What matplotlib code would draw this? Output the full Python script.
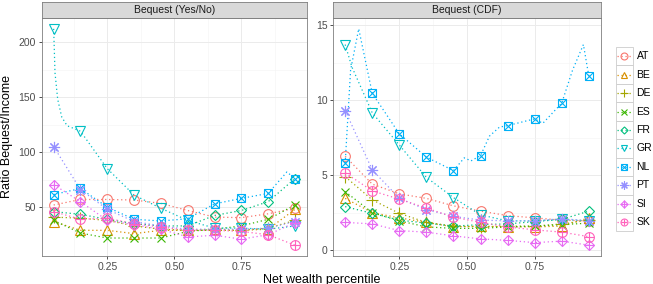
import matplotlib
matplotlib.use('Agg')
import matplotlib.pyplot as plt
from matplotlib.patches import Rectangle
from matplotlib.lines import Line2D

plt.rcParams['font.family'] = ['Liberation Sans', 'DejaVu Sans']

# ---------------- data ----------------
percentile = [0.05, 0.15, 0.25, 0.35, 0.45, 0.55, 0.65, 0.75, 0.85, 0.95]
countries = ['AT', 'BE', 'DE', 'ES', 'FR', 'GR', 'NL', 'PT', 'SI', 'SK']
panel_titles = ['Bequest (Yes/No)', 'Bequest (CDF)']

# Bequest (Yes/No) panel
yn_AT = [52, 57, 57, 56.5, 53.5, 47, 41, 40.5, 44, 49]
yn_BE = [37, 29, 29, 26, 29, 29, 30, 29, 30, 48]
yn_DE = [41, 40, 38, 33, 30, 29, 29, 29, 31, 38]
yn_ES = [38, 26.5, 22, 22, 22, 28, 30, 33, 39, 52]
yn_FR = [46, 43.5, 39, 35, 33, 33, 42.5, 47, 55, 76]
yn_GR = [212, 119, 85, 61, 49, 38, 31, 31, 30, 33]
yn_NL = [61.5, 67, 50, 39, 37.5, 39.5, 53, 58, 62.5, 76]
yn_PT = [105, 66, 48, 37, 33, 30, 30, 30, 31, 37]
yn_SI = [70.5, 55, 38, 34, 30, 23, 24.5, 21, 25, 36]
yn_SK = [46, 39, 40, 35, 32, 29, 29, 28, 25, 15.5]

# Bequest (CDF) panel
cdf_AT = [6.25, 4.4, 3.75, 3.45, 2.95, 2.6, 2.3, 2.15, 2.0, 1.95]
cdf_BE = [3.45, 2.5, 2.15, 1.85, 1.55, 1.6, 1.55, 1.55, 1.6, 2.15]
cdf_DE = [4.9, 3.35, 2.45, 1.85, 1.6, 1.55, 1.6, 1.6, 1.75, 2.0]
cdf_ES = [3.9, 2.5, 1.95, 1.55, 1.45, 1.45, 1.55, 1.6, 1.7, 1.8]
cdf_FR = [2.9, 2.45, 2.0, 1.8, 1.6, 1.7, 1.75, 1.9, 2.05, 2.6]
cdf_GR = [13.7, 9.15, 7.0, 4.85, 3.5, 2.35, 1.95, 1.95, 2.05, 1.95]
cdf_NL = [5.8, 10.45, 7.75, 6.2, 5.3, 6.3, 8.3, 8.75, 9.8, 11.6]
cdf_PT = [9.3, 5.35, 3.45, 2.7, 2.25, 2.0, 1.95, 1.95, 2.1, 1.95]
cdf_SI = [1.85, 1.75, 1.3, 1.2, 0.95, 0.75, 0.65, 0.5, 0.6, 0.33]
cdf_SK = [5.15, 3.95, 3.4, 2.8, 2.2, 1.85, 1.55, 1.35, 1.2, 0.9]

# extra points along the (finer) connecting lines
yn_GR_line_x = [0.055, 0.065, 0.08, 0.10]
yn_GR_line_y = [172, 148, 132, 124]
yn_NL_line_x = [0.92]
yn_NL_line_y = [82]
cdf_GR_line_x = [0.075]
cdf_GR_line_y = [12.2]
cdf_NL_line_x = [0.07, 0.10, 0.49, 0.515, 0.583, 0.62, 0.78, 0.89, 0.93]
cdf_NL_line_y = [12.0, 14.75, 6.15, 5.95, 7.6, 8.2, 8.45, 12.0, 13.7]

yn = dict(AT=yn_AT, BE=yn_BE, DE=yn_DE, ES=yn_ES, FR=yn_FR, GR=yn_GR,
          NL=yn_NL, PT=yn_PT, SI=yn_SI, SK=yn_SK)
cdf = dict(AT=cdf_AT, BE=cdf_BE, DE=cdf_DE, ES=cdf_ES, FR=cdf_FR, GR=cdf_GR,
           NL=cdf_NL, PT=cdf_PT, SI=cdf_SI, SK=cdf_SK)
yn_extra = {'GR': (yn_GR_line_x, yn_GR_line_y), 'NL': (yn_NL_line_x, yn_NL_line_y)}
cdf_extra = {'GR': (cdf_GR_line_x, cdf_GR_line_y), 'NL': (cdf_NL_line_x, cdf_NL_line_y)}

# ---------------- style ----------------
colors = dict(AT='#F8766D', BE='#D89000', DE='#A3A500', ES='#39B600', FR='#00BF7D',
              GR='#00BFC4', NL='#00B0F6', PT='#9590FF', SI='#E76BF3', SK='#FF62BC')
shapes = {
    'AT': [('o', 1.0)],
    'BE': [('^', 1.0)],
    'DE': [('+', 1.15)],
    'ES': [('x', 0.9)],
    'FR': [('D', 0.72)],
    'GR': [('v', 1.0)],
    'NL': [('s', 0.85), ('x', 0.85)],
    'PT': [((8, 2, 0), 1.15)],
    'SI': [('D', 0.72), ('+', 1.02)],
    'SK': [('o', 1.0), ('+', 1.0)],
}

W, H = 653, 284
fig = plt.figure(figsize=(W / 100, H / 100), dpi=100)


def px_rect(x0, y0, x1, y1):
    return [x0 / W, 1 - y1 / H, (x1 - x0) / W, (y1 - y0) / H]


def draw_markers(ax, xs, ys, c, ms, **kw):
    for m, s in shapes[c]:
        ax.plot(xs, ys, linestyle='none', marker=m, markersize=ms * s,
                markerfacecolor='none', markeredgecolor=colors[c],
                markeredgewidth=0.8, **kw)


panels = [(41.6, 307.0, yn, yn_extra, [50, 100, 150, 200], [75, 125, 175]),
          (333.0, 601.0, cdf, cdf_extra, [0, 5, 10, 15], [2.5, 7.5, 12.5])]

for (x0, x1, data, extra, yt, ymt), title in zip(panels, panel_titles):
    ax = fig.add_axes(px_rect(x0, 18, x1, 256))
    allv = []
    for c in countries:
        lx = list(percentile)
        ly = list(data[c])
        if c in extra:
            lx += extra[c][0]
            ly += extra[c][1]
        pts = sorted(zip(lx, ly))
        allv += ly
        ax.plot([p[0] for p in pts], [p[1] for p in pts], linestyle=(0, (1, 2.2)),
                color=colors[c], linewidth=0.9, zorder=2)
        draw_markers(ax, percentile, data[c], c, 7, zorder=3)
    lo, hi = min(allv), max(allv)
    pad = (hi - lo) * 0.05
    ax.set_ylim(lo - pad, hi + pad)
    ax.set_xlim(0.005, 0.995)
    ax.set_xticks([0.25, 0.5, 0.75])
    ax.set_xticklabels(['0.25', '0.50', '0.75'])
    ax.set_xticks([0.125, 0.375, 0.625, 0.875], minor=True)
    ax.set_yticks(yt)
    ax.set_yticks(ymt, minor=True)
    ax.grid(True, which='major', color='#EBEBEB', linewidth=0.7, zorder=0)
    ax.grid(True, which='minor', color='#F3F3F3', linewidth=0.4, zorder=0)
    ax.set_axisbelow(True)
    ax.tick_params(which='major', length=2.5, width=0.6, color='#333333',
                   labelsize=7.5, labelcolor='#4D4D4D', pad=1.5)
    ax.tick_params(which='minor', length=0)
    for s in ax.spines.values():
        s.set_color('#7F7F7F')
        s.set_linewidth(0.6)
    # strip
    sax = fig.add_axes(px_rect(x0, 2, x1, 18))
    sax.set_xticks([])
    sax.set_yticks([])
    sax.set_facecolor('#D9D9D9')
    for s in sax.spines.values():
        s.set_color('#7F7F7F')
        s.set_linewidth(0.6)
    sax.text(0.5, 0.48, title, ha='center', va='center', fontsize=7.5,
             color='#1A1A1A', transform=sax.transAxes)

fig.text(7.5 / W, 1 - 137 / H, 'Ratio Bequest/Income', rotation=90,
         ha='center', va='center', fontsize=9, color='#000000')
fig.text(322 / W, 1 - 279.5 / H, 'Net wealth percentile', ha='center',
         va='center', fontsize=9, color='#000000')

# legend
lax = fig.add_axes([0, 0, 1, 1], facecolor='none')
lax.set_xlim(0, W)
lax.set_ylim(H, 0)
lax.axis('off')
kx0, kx1 = 615.5, 633.0
ky0, kh = 47.0, 18.45
for i, c in enumerate(countries):
    top = ky0 + i * kh
    lax.add_patch(Rectangle((kx0, top), kx1 - kx0, kh, facecolor='white',
                            edgecolor='#CCCCCC', linewidth=0.6))
    cy = top + kh / 2
    lax.plot([kx0 + 1.5, kx1 - 1.5], [cy, cy], linestyle=(0, (1, 2.2)),
             color=colors[c], linewidth=0.9)
    draw_markers(lax, [(kx0 + kx1) / 2], [cy], c, 5)
    lax.text(636.5, cy, c, ha='left', va='center', fontsize=7.5, color='#000000')

fig.savefig('out.png', dpi=100)
